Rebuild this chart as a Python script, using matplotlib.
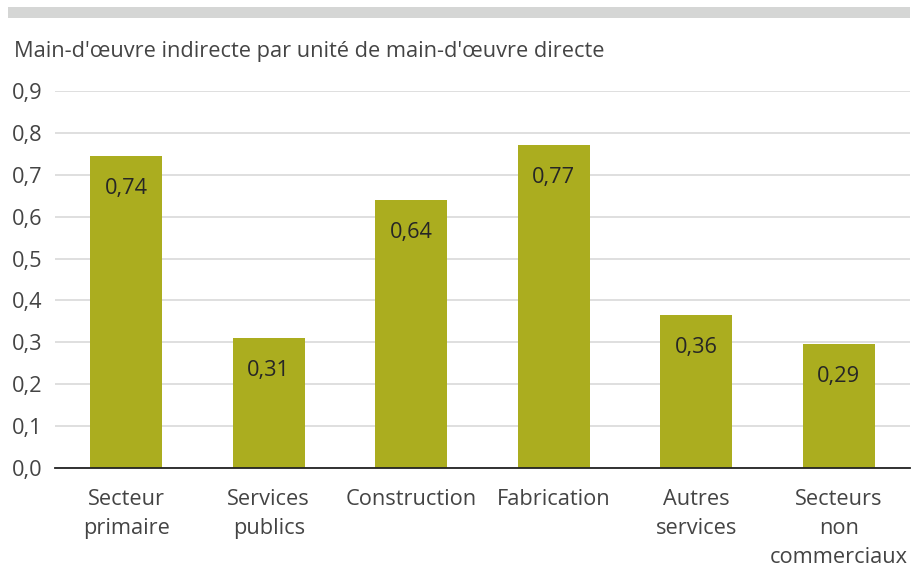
import matplotlib
matplotlib.use("Agg")
import matplotlib.pyplot as plt
from matplotlib.patches import Rectangle

categories = ["Secteur\nprimaire", "Services\npublics", "Construction", "Fabrication", "Autres\nservices", "Secteurs\nnon\ncommerciaux"]
values = [0.745, 0.31, 0.64, 0.771, 0.365, 0.296]
labels = ["0,74", "0,31", "0,64", "0,77", "0,36", "0,29"]
yticks = [0.0, 0.1, 0.2, 0.3, 0.4, 0.5, 0.6, 0.7, 0.8, 0.9]
ytick_labels = ["0,0", "0,1", "0,2", "0,3", "0,4", "0,5", "0,6", "0,7", "0,8", "0,9"]
title = "Main-d'œuvre indirecte par unité de main-d'œuvre directe"

plt.rcParams['font.family'] = ['Open Sans', 'DejaVu Sans']
FS = 15.7
TXT = '#444444'
W, H = 917, 567
fig = plt.figure(figsize=(W/100, H/100), dpi=100)
fig.patch.set_facecolor('white')

# top gray band
fig.add_artist(Rectangle((8/W, 1-17.5/H), (910-8)/W, 10.5/H, transform=fig.transFigure,
                         facecolor='#d5d6d5', edgecolor='none'))
fig.text(14/W, 1-51/H, title, fontsize=FS, color=TXT, va='center', ha='left')

ax = fig.add_axes([55/W, 1-468/H, (910-55)/W, (468-91)/H])
x = list(range(len(categories)))
bars = ax.bar(x, values, width=0.505, color='#abad1f', zorder=3)
ax.set_xlim(-0.5, len(categories)-0.5)
ax.set_ylim(0, 0.9)
ax.set_yticks(yticks)
ax.set_yticklabels(ytick_labels, fontsize=FS, color=TXT)
ax.set_xticks(x)
ax.set_xticklabels(categories, fontsize=FS, color=TXT)
for t in ax.get_xticklabels():
    t.set_linespacing(1.5)
ax.tick_params(axis='both', length=0)
ax.tick_params(axis='y', pad=9)
ax.tick_params(axis='x', pad=15)
ax.grid(axis='y', color='#d9d9d9', linewidth=1.2, zorder=0)
ax.set_axisbelow(True)
for s in ['top', 'right', 'left']:
    ax.spines[s].set_visible(False)
ax.spines['bottom'].set_color('#222222')
ax.spines['bottom'].set_linewidth(1.3)
ax.spines['bottom'].set_zorder(4)
for xi, v, lab in zip(x, values, labels):
    ax.annotate(lab, (xi, v), xytext=(0, -23.3), textcoords='offset points',
                ha='center', va='center', fontsize=FS, color='#262626', zorder=5)

fig.savefig('out.png', dpi=100, facecolor='white')
